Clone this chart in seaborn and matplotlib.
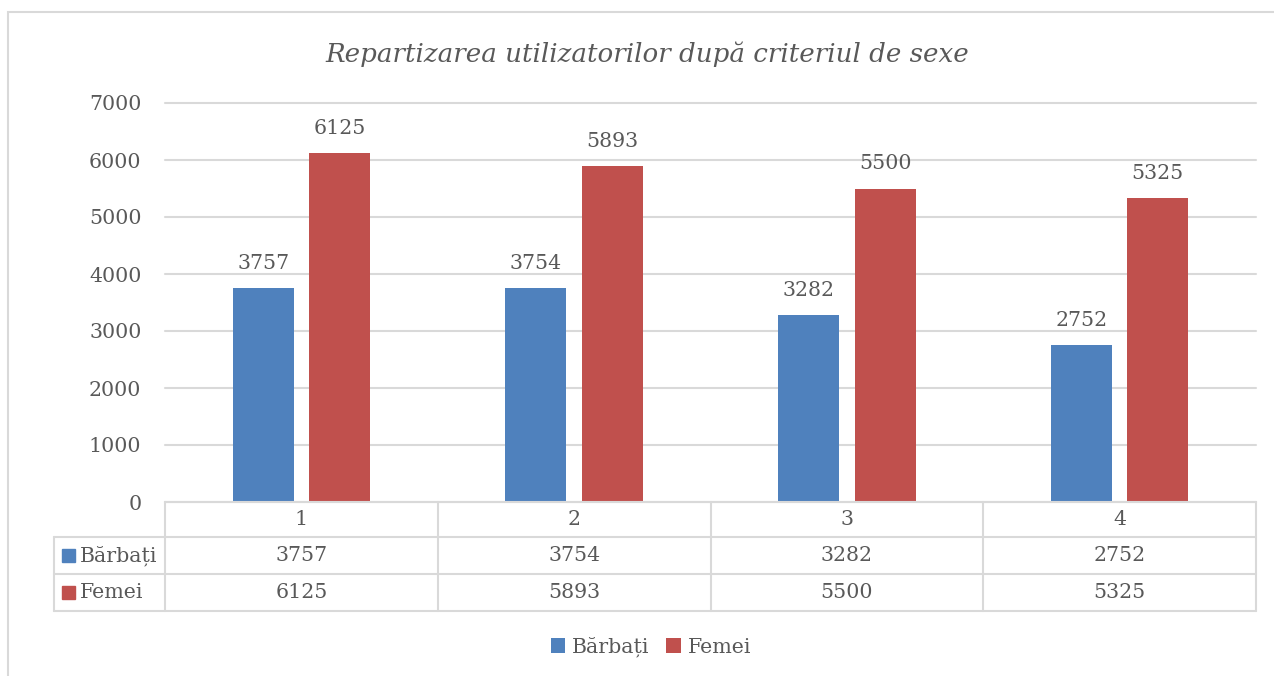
import pandas as pd
import seaborn as sns
import matplotlib.pyplot as plt
from matplotlib.patches import Rectangle, Patch
from matplotlib.lines import Line2D
import matplotlib.transforms as mtransforms

# date
categorii = ["1", "2", "3", "4"]
barbati = [3757, 3754, 3282, 2752]
femei = [6125, 5893, 5500, 5325]
serii = ["Bărbați", "Femei"]
culori = ["#4F81BD", "#C0504D"]
titlu = "Repartizarea utilizatorilor după criteriul de sexe"

df = pd.DataFrame({
    "categorie": categorii * 2,
    "valoare": barbati + femei,
    "sex": [serii[0]] * 4 + [serii[1]] * 4,
})

sns.set_style("white")
plt.rcParams["font.family"] = ["DejaVu Serif"]
text_col = "#595959"
grid_col = "#d9d9d9"
fs = 14.8

W, H = 1274, 676
fig = plt.figure(figsize=(W / 100, H / 100), dpi=100)

def fx(x):
    return x / W

def fy(y):
    return 1 - y / H

# chenar exterior
fig.patches.append(Rectangle((fx(8), fy(700)), fx(1300 - 8), fy(12) - fy(700),
                             transform=fig.transFigure, fill=False,
                             edgecolor=grid_col, linewidth=1.5))

ax = fig.add_axes([fx(165), fy(502), fx(1256 - 165), fy(103) - fy(502)])
sns.barplot(data=df, x="categorie", y="valoare", hue="sex", palette=culori,
            width=0.56, gap=0.2, saturation=1, linewidth=0, legend=False, ax=ax)

for c in ax.containers:
    ax.bar_label(c, padding=11, fontsize=fs, color=text_col)

ax.set_ylim(0, 7000)
ax.set_yticks(range(0, 7001, 1000))
ax.set_xlim(-0.5, 3.5)
ax.set_xticks([])
ax.set_xlabel("")
ax.set_ylabel("")
ax.grid(axis="y", color=grid_col, linewidth=1.5)
for gl in ax.get_ygridlines():
    gl.set_clip_on(False)
ax.set_axisbelow(True)
ax.tick_params(axis="y", length=0, pad=17, labelsize=fs, labelcolor=text_col)
for s in ax.spines.values():
    s.set_visible(False)

# tabel de date sub axa
ah = 502 - 103
def ay(y):
    return -(y - 502) / ah

lx = (54 - 165) / (1256 - 165)
tr = mtransforms.blended_transform_factory(ax.transData, ax.transAxes)
ta = ax.transAxes
kw = dict(color=grid_col, linewidth=1.5, clip_on=False)

ax.add_line(Line2D([0, 1], [0, 0], transform=ta, **kw))
for yy in [537, 574, 611]:
    ax.add_line(Line2D([lx, 1], [ay(yy), ay(yy)], transform=ta, **kw))
for i in range(len(categorii) + 1):
    ax.add_line(Line2D([i - 0.5, i - 0.5], [0, ay(611)], transform=tr, **kw))
ax.add_line(Line2D([lx, lx], [ay(537), ay(611)], transform=ta, **kw))

rand_y = [ay(519.5), ay(555.5), ay(592.5)]
for i, cat in enumerate(categorii):
    ax.text(i, rand_y[0], cat, transform=tr, ha="center", va="center",
            fontsize=fs, color=text_col)
    ax.text(i, rand_y[1], str(barbati[i]), transform=tr, ha="center", va="center",
            fontsize=fs, color=text_col)
    ax.text(i, rand_y[2], str(femei[i]), transform=tr, ha="center", va="center",
            fontsize=fs, color=text_col)

for j, (nume, col) in enumerate(zip(serii, culori)):
    yc = [555.5, 592.5][j]
    fig.patches.append(Rectangle((fx(62), fy(yc + 6.5)), fx(13), fy(yc - 6.5) - fy(yc + 6.5),
                                 transform=fig.transFigure, color=col))
    fig.text(fx(80), fy(yc), nume, ha="left", va="center", fontsize=fs, color=text_col)

fig.text(fx(647), fy(54), titlu, ha="center", va="center", fontsize=18.8,
         style="italic", color=text_col)

handles = [Patch(facecolor=c, edgecolor="none") for c in culori]
fig.legend(handles, serii, loc="center", bbox_to_anchor=(fx(651), fy(647)), ncol=2,
           frameon=False, fontsize=fs, labelcolor=text_col, handlelength=0.7,
           handleheight=0.7, handletextpad=0.35, columnspacing=0.8)

fig.savefig("out.png", dpi=100)
